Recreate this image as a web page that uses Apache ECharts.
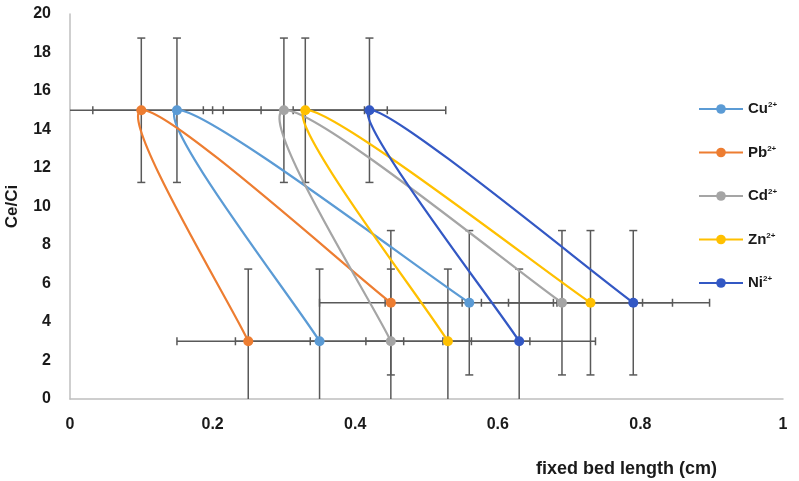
<!DOCTYPE html>
<html>
<head>
<meta charset="utf-8">
<script src="https://cdn.jsdelivr.net/npm/echarts@6/dist/echarts.min.js"></script>
<style>
  html, body { margin: 0; padding: 0; background: #fff; }
  #main { width: 799px; height: 481px; }
</style>
</head>
<body>
<div id="main"></div>
<script>
// ions, in legend order
const ions = ['Cu', 'Pb', 'Cd', 'Zn', 'Ni'];
// Ce/Ci level of the three points of every curve (in drawing order)
const ceLevels = [3, 15, 5];
// fixed bed length (cm) at each level
const lenCu = [0.35, 0.15, 0.56];
const lenPb = [0.25, 0.10, 0.45];
const lenCd = [0.45, 0.30, 0.69];
const lenZn = [0.53, 0.33, 0.73];
const lenNi = [0.63, 0.42, 0.79];
const lengths = [lenCu, lenPb, lenCd, lenZn, lenNi];
// error bars
const xErrors = [0.118, 0.10, 0.113, 0.115, 0.107];
const yError = 3.75;
const colors = ['#5B9BD5', '#ED7D31', '#A5A5A5', '#FFC000', '#3358C4'];
const txt = '#1a1a1a';
const font = 'Liberation Sans';

var myChart = echarts.init(document.getElementById('main'));

// rows for the error bar series: [x, y, xErr, yErr]
let errRows = [];
ions.forEach((ion, i) => {
  lengths[i].forEach((x, j) => {
    errRows.push([x, ceLevels[j], xErrors[i], yError]);
  });
});

function renderErr(params, api) {
  let x = api.value(0), y = api.value(1), ex = api.value(2), ey = api.value(3);
  let cap = 4;
  let style = { stroke: '#595959', lineWidth: 1.5 };
  let yLo = Math.max(y - ey, 0), yHi = y + ey;
  let xLo = Math.max(x - ex, 0), xHi = x + ex;
  let top = api.coord([x, yHi]), bot = api.coord([x, yLo]);
  let left = api.coord([xLo, y]), right = api.coord([xHi, y]);
  let kids = [
    { type: 'line', shape: { x1: top[0], y1: top[1], x2: bot[0], y2: bot[1] }, style: style },
    { type: 'line', shape: { x1: left[0], y1: left[1], x2: right[0], y2: right[1] }, style: style },
    { type: 'line', shape: { x1: top[0] - cap, y1: top[1], x2: top[0] + cap, y2: top[1] }, style: style },
    { type: 'line', shape: { x1: right[0], y1: right[1] - cap, x2: right[0], y2: right[1] + cap }, style: style }
  ];
  if (y - ey >= 0) kids.push({ type: 'line', shape: { x1: bot[0] - cap, y1: bot[1], x2: bot[0] + cap, y2: bot[1] }, style: style });
  if (x - ex > 0) kids.push({ type: 'line', shape: { x1: left[0], y1: left[1] - cap, x2: left[0], y2: left[1] + cap }, style: style });
  return { type: 'group', children: kids };
}

// smoothed curve like the spreadsheet one (catmull-rom, 1/6 tangents)
function makeCurve(color) {
  return function (params, api) {
    let i = params.dataIndexInside, n = params.dataInsideLength;
    if (i >= n - 1) return null;
    let pt = (k) => {
      k = Math.max(0, Math.min(n - 1, k));
      return api.coord([api.value(0, k), api.value(1, k)]);
    };
    let p0 = pt(i - 1), p1 = pt(i), p2 = pt(i + 1), p3 = pt(i + 2);
    return {
      type: 'bezierCurve',
      shape: {
        x1: p1[0], y1: p1[1], x2: p2[0], y2: p2[1],
        cpx1: p1[0] + (p2[0] - p0[0]) / 6, cpy1: p1[1] + (p2[1] - p0[1]) / 6,
        cpx2: p2[0] - (p3[0] - p1[0]) / 6, cpy2: p2[1] - (p3[1] - p1[1]) / 6
      },
      style: { stroke: color, lineWidth: 2.2, fill: null }
    };
  };
}

let series = [{
  type: 'custom',
  name: 'err',
  renderItem: renderErr,
  data: errRows,
  encode: { x: 0, y: 1 },
  z: 1,
  silent: true
}];

ions.forEach((ion, i) => {
  let pts = lengths[i].map((x, j) => [x, ceLevels[j]]);
  series.push({
    type: 'custom',
    name: ion + '-curve',
    renderItem: makeCurve(colors[i]),
    data: pts,
    encode: { x: 0, y: 1 },
    z: 2,
    silent: true
  });
  series.push({
    type: 'line',
    name: ion,
    data: pts,
    symbol: 'circle',
    symbolSize: 10,
    lineStyle: { width: 2, color: colors[i], opacity: 0 },
    itemStyle: { color: colors[i] },
    z: 3
  });
});

var option = {
  animation: false,
  color: colors,
  grid: { left: 70, right: 16, top: 14, bottom: 82, outerBoundsMode: 'none' },
  legend: {
    data: ions,
    orient: 'vertical',
    left: 698,
    top: 101,
    padding: 0,
    itemWidth: 44,
    itemHeight: 12,
    itemGap: 28,
    lineStyle: { width: 2, opacity: 1 },
    formatter: (name) => '{b|' + name + '}{s|2+}',
    textStyle: {
      rich: {
        b: { fontFamily: font, fontWeight: 'bold', fontSize: 15, color: txt },
        s: { fontFamily: font, fontWeight: 'bold', fontSize: 8, color: txt, verticalAlign: 'top', padding: [0, 0, 8, 0] }
      }
    }
  },
  xAxis: {
    type: 'value',
    min: 0,
    max: 1,
    interval: 0.2,
    name: 'fixed bed length (cm)',
    nameLocation: 'middle',
    nameGap: 61,
    nameTextStyle: { fontFamily: font, fontWeight: 'bold', fontSize: 18, color: txt, padding: [0, 0, 0, 400] },
    axisLine: { lineStyle: { color: '#bfbfbf', width: 1.5 } },
    axisTick: { show: false },
    splitLine: { show: false },
    axisLabel: { margin: 18, fontFamily: font, fontWeight: 'bold', fontSize: 16, color: txt }
  },
  yAxis: {
    type: 'value',
    min: 0,
    max: 20,
    interval: 2,
    name: 'Ce/Ci',
    nameLocation: 'middle',
    nameGap: 49,
    nameTextStyle: { fontFamily: font, fontWeight: 'bold', fontSize: 17, color: txt },
    axisLine: { show: true, lineStyle: { color: '#bfbfbf', width: 1.5 } },
    axisTick: { show: false },
    splitLine: { show: false },
    axisLabel: { margin: 19, fontFamily: font, fontWeight: 'bold', fontSize: 16, color: txt }
  },
  series: series
};
myChart.setOption(option);
</script>
</body>
</html>
